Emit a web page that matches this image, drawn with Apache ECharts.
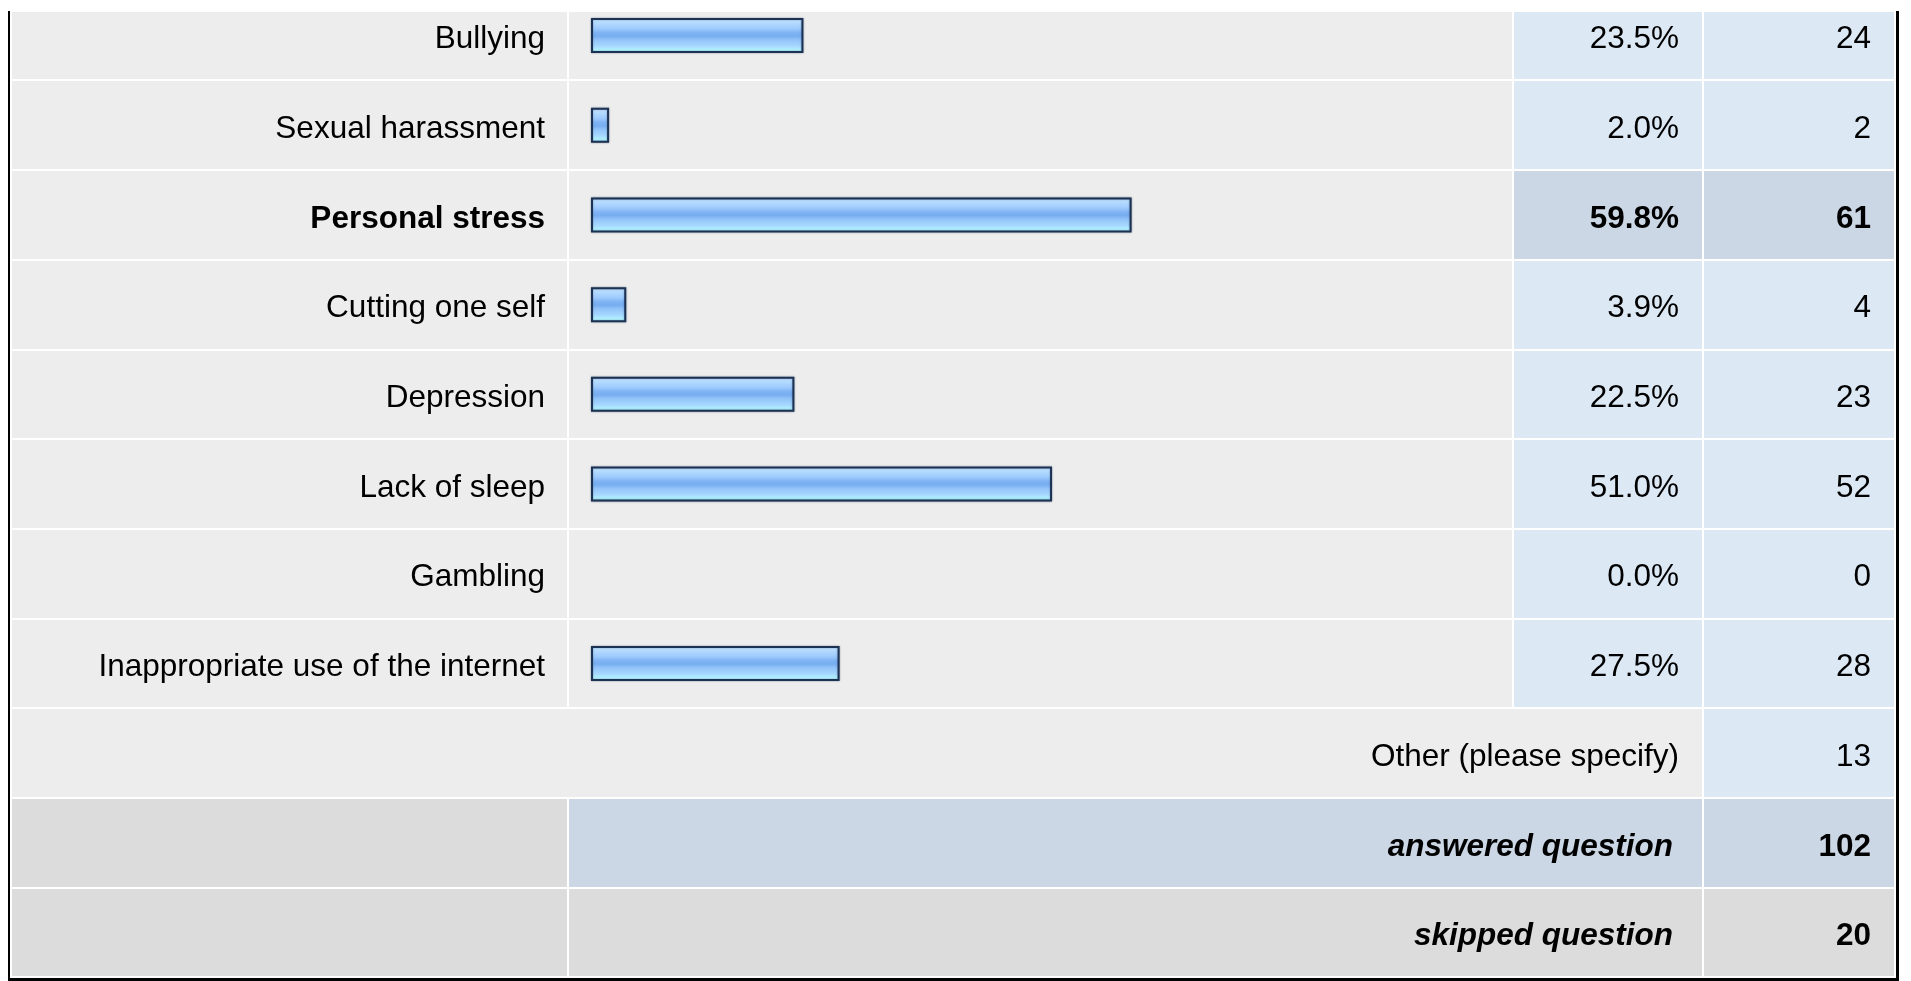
<!DOCTYPE html>
<html><head><meta charset="utf-8">
<script src="https://cdn.jsdelivr.net/npm/echarts@6/dist/echarts.min.js"></script>
<style>html,body{margin:0;padding:0;background:#fff;overflow:hidden}#c{width:1911px;height:981px}</style>
</head><body><div id="c"></div>
<script>
// ---- data ----
const categories = ['Bullying', 'Sexual harassment', 'Personal stress', 'Cutting one self',
  'Depression', 'Lack of sleep', 'Gambling', 'Inappropriate use of the internet'];
const percents = [23.5, 2.0, 59.8, 3.9, 22.5, 51.0, 0.0, 27.5];
const counts = [24, 2, 61, 4, 23, 52, 0, 28];
const otherLabel = 'Other (please specify)';
const otherCount = 13;
const summaryLabels = ['answered question', 'skipped question'];
const summaryCounts = [102, 20];

// ---- layout / style ----
const FONT = "'Liberation Sans', Arial, Helvetica, sans-serif";
const FS = 31.5;
const TEXT_DY = 4;
const COL = { left: 11, label: 568, bar: 1513, pct: 1703, right: 1895 };
const TXT = { pct: 1679, sum: 1673, cnt: 1871 };
const VIEW_TOP = 11;
const C = { cell: '#ededed', blue: '#dde8f5', hl: '#cbd7e5', sum: '#dcdcdc', border: '#000' };

const rowNames = categories.concat([otherLabel], summaryLabels);
const nCat = categories.length;
const maxIdx = counts.indexOf(Math.max(...counts));

function renderRow(params, api) {
  const i = api.value(1);
  const yc = api.coord([0, i])[1];
  const h = api.size([0, 1])[1];
  const top = Math.round(yc - h / 2), bot = Math.round(yc + h / 2);
  const vt = Math.max(top, VIEW_TOP);
  const last = i === rowNames.length - 1;
  const ch = [];
  const cell = (x0, x1, fill) => ch.push({ type: 'rect',
    shape: { x: x0 + 1, y: vt + 1, width: x1 - x0 - 2, height: bot - vt - 2 }, style: { fill } });
  const text = (s, x, o) => ch.push({ type: 'text', z2: 5, style: Object.assign({ text: String(s), x, y: yc + TEXT_DY,
    align: 'right', verticalAlign: 'middle', fill: '#000', fontSize: FS, fontFamily: FONT }, o || {}) });

  if (i < nCat) {
    const hl = i === maxIdx;
    const bw = hl ? { fontWeight: 'bold' } : {};
    cell(COL.left, COL.label, C.cell);
    cell(COL.label, COL.bar, C.cell);
    cell(COL.bar, COL.pct, hl ? C.hl : C.blue);
    cell(COL.pct, COL.right, hl ? C.hl : C.blue);
    text(percents[i].toFixed(1) + '%', TXT.pct, bw);
    text(counts[i], TXT.cnt, bw);
  } else if (i === nCat) {
    cell(COL.left, COL.pct, C.cell);
    cell(COL.pct, COL.right, C.blue);
    text(otherLabel, TXT.pct);
    text(otherCount, TXT.cnt);
  } else {
    const k = i - nCat - 1;
    cell(COL.left, COL.label, C.sum);
    cell(COL.label, COL.pct, k === 0 ? C.hl : C.sum);
    cell(COL.pct, COL.right, k === 0 ? C.hl : C.sum);
    text(summaryLabels[k], TXT.sum, { fontWeight: 'bold', fontStyle: 'italic' });
    text(summaryCounts[k], TXT.cnt, { fontWeight: 'bold' });
  }
  const bb = last ? bot + 4 : bot;
  ch.push({ type: 'rect', shape: { x: 8, y: vt, width: 2, height: bb - vt }, style: { fill: C.border } });
  ch.push({ type: 'rect', shape: { x: 1896, y: vt, width: 3, height: bb - vt }, style: { fill: C.border } });
  if (last) ch.push({ type: 'rect', shape: { x: 8, y: bot + 1, width: 1891, height: 3 }, style: { fill: C.border } });
  return { type: 'group', children: ch };
}

const barGrad = new echarts.graphic.LinearGradient(0, 0, 0, 1, [
  { offset: 0, color: '#d0ebff' }, { offset: 0.12, color: '#b6dcff' },
  { offset: 0.3, color: '#9ecbfd' }, { offset: 0.42, color: '#7fb3f3' },
  { offset: 0.52, color: '#77aef0' }, { offset: 0.62, color: '#92c3f9' },
  { offset: 0.8, color: '#a6d8ff' }, { offset: 0.9, color: '#b0f0ff' },
  { offset: 1, color: '#b4ffff' }
]);

const chart = echarts.init(document.getElementById('c'), null, { renderer: 'canvas' });
chart.setOption({
  animation: false,
  backgroundColor: '#fff',
  grid: { left: 591, width: 904, top: -9.3, height: 986.7, containLabel: false, outerBoundsMode: 'none' },
  xAxis: { type: 'value', min: 0, max: 100, show: false },
  yAxis: {
    type: 'category', inverse: true, data: rowNames, z: 10,
    axisLine: { show: false }, axisTick: { show: false }, splitLine: { show: false },
    axisLabel: {
      margin: 46, fontSize: FS, fontFamily: FONT, color: '#000', padding: [TEXT_DY * 2, 0, 0, 0],
      formatter: (v, idx) => idx >= nCat ? '' : (idx === maxIdx ? '{b|' + v + '}' : v),
      rich: { b: { fontWeight: 'bold', fontSize: FS, fontFamily: FONT, color: '#000' } }
    }
  },
  series: [
    {
      type: 'custom', z: 1, silent: true,
      data: rowNames.map((_, i) => [0, i]),
      encode: { x: 0, y: 1 },
      renderItem: renderRow
    },
    {
      type: 'bar', z: 3, barWidth: 35,
      data: rowNames.map((_, i) => (i < nCat && percents[i] > 0) ? percents[i] : '-'),
      itemStyle: { color: barGrad, borderColor: '#1b3254', borderWidth: 2,
        shadowColor: 'rgba(30,50,80,0.45)', shadowBlur: 2 }
    }
  ]
});
</script>
</body></html>
